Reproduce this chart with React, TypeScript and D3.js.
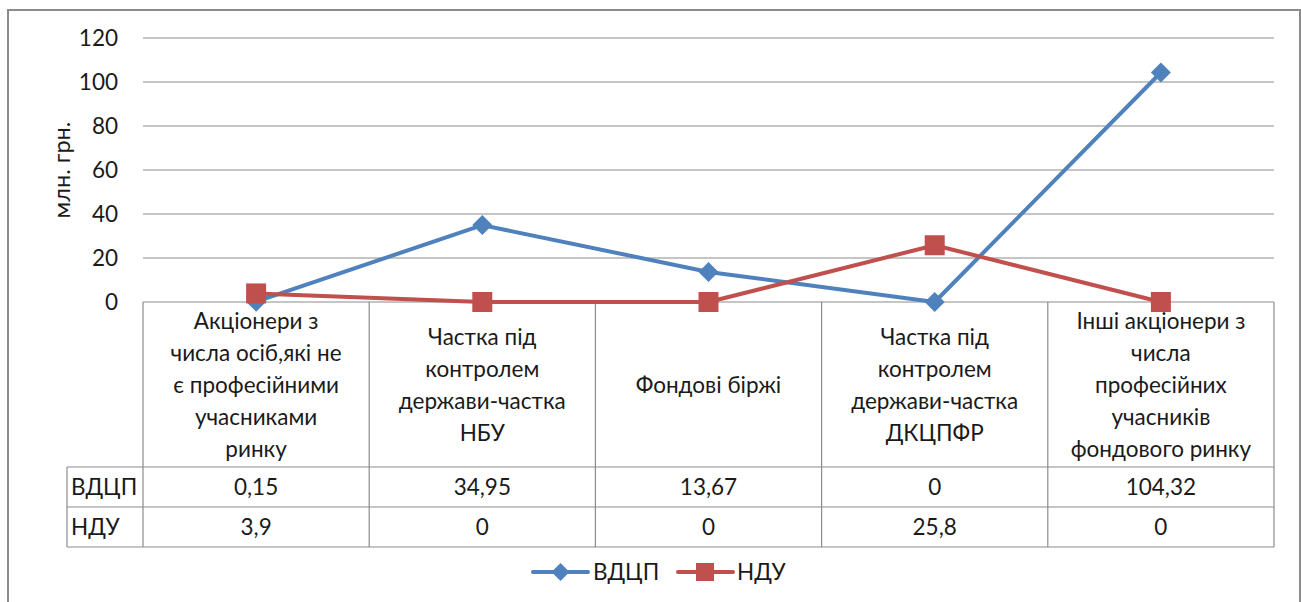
import React from "react";
import * as d3 from "d3";

const categoryLines: string[][] = [
  ["Акціонери з", "числа осіб,які не", "є професійними", "учасниками", "ринку"],
  ["Частка під", "контролем", "держави-частка", "НБУ"],
  ["Фондові біржі"],
  ["Частка під", "контролем", "держави-частка", "ДКЦПФР"],
  ["Інші акціонери з", "числа", "професійних", "учасників", "фондового ринку"],
];
const seriesNames = ["ВДЦП", "НДУ"];
const vdcp = [0.15, 34.95, 13.67, 0, 104.32];
const ndu = [3.9, 0, 0, 25.8, 0];
const vdcpLabels = ["0,15", "34,95", "13,67", "0", "104,32"];
const nduLabels = ["3,9", "0", "0", "25,8", "0"];
const yTicks = [0, 20, 40, 60, 80, 100, 120];
const yTitle = "млн. грн.";

const BLUE = "#4F81BD";
const RED = "#C0504D";
const GRID = "#8c8c8c";
const FONT = "Lato, 'Open Sans', sans-serif";
const FS = 22.5;
const TXT = "#1a1a1a";

export default function App() {
  const W = 1301, H = 602;
  const left = 143, right = 1274, top = 38, bottom = 302;
  const headerBottom = 467, row1Bottom = 507, row2Bottom = 547, labelLeft = 67;
  const y = d3.scaleLinear().domain([0, 120]).range([bottom, top]);
  const keys = categoryLines.map((_, i) => String(i));
  const x = d3.scaleBand().domain(keys).range([left, right]).paddingInner(0).paddingOuter(0);
  const cx = (i: number) => (x(String(i)) as number) + x.bandwidth() / 2;
  const line = d3.line<number>().x((_, i) => cx(i)).y((d) => y(d));
  const lineH = 32;
  const headerMid = (bottom + headerBottom) / 2;

  const diamond = (px: number, py: number, r: number) =>
    `M${px},${py - r}L${px + r},${py}L${px},${py + r}L${px - r},${py}Z`;

  return (
    <svg width={W} height={H} style={{ position: "absolute", left: 0, top: 0, background: "#fff" }} fontFamily={FONT}>
      <rect x={0} y={0} width={W} height={H} fill="#fff" />
      <rect x={8} y={10} width={1292} height={620} fill="none" stroke={GRID} strokeWidth={2} />
      {yTicks.filter((t) => t !== 0).map((t) => (
        <line key={t} x1={left} x2={right} y1={y(t)} y2={y(t)} stroke={GRID} strokeWidth={1.2} />
      ))}
      {yTicks.map((t) => (
        <text key={"t" + t} x={118} y={y(t)} dy="0.36em" textAnchor="end" fontSize={FS} fill={TXT}>{t}</text>
      ))}
      <text transform={`translate(62,170) rotate(-90)`} textAnchor="middle" dy="0.36em" fontSize={23.5} fill={TXT}>{yTitle}</text>
      <g stroke={GRID} strokeWidth={1.2} fill="none">
        <line x1={left} x2={right} y1={bottom} y2={bottom} />
        <line x1={labelLeft} x2={right} y1={headerBottom} y2={headerBottom} />
        <line x1={labelLeft} x2={right} y1={row1Bottom} y2={row1Bottom} />
        <line x1={labelLeft} x2={right} y1={row2Bottom} y2={row2Bottom} />
        <line x1={labelLeft} x2={labelLeft} y1={headerBottom} y2={row2Bottom} />
        {keys.map((k) => (
          <line key={k} x1={x(k)} x2={x(k)} y1={bottom} y2={row2Bottom} />
        ))}
        <line x1={right} x2={right} y1={bottom} y2={row2Bottom} />
      </g>
      {categoryLines.map((lines, i) => (
        <text key={"c" + i} textAnchor="middle" fontSize={FS} fill={TXT}>
          {lines.map((l, j) => (
            <tspan key={j} x={cx(i)} y={headerMid + (j - (lines.length - 1) / 2) * lineH} dy="0.36em">{l}</tspan>
          ))}
        </text>
      ))}
      {vdcpLabels.map((v, i) => (
        <text key={"v" + i} x={cx(i)} y={(headerBottom + row1Bottom) / 2} dy="0.36em" textAnchor="middle" fontSize={FS} fill={TXT}>{v}</text>
      ))}
      {nduLabels.map((v, i) => (
        <text key={"n" + i} x={cx(i)} y={(row1Bottom + row2Bottom) / 2} dy="0.36em" textAnchor="middle" fontSize={FS} fill={TXT}>{v}</text>
      ))}
      <text x={71} y={(headerBottom + row1Bottom) / 2} dy="0.36em" fontSize={FS} fill={TXT}>{seriesNames[0]}</text>
      <text x={71} y={(row1Bottom + row2Bottom) / 2} dy="0.36em" fontSize={FS} fill={TXT}>{seriesNames[1]}</text>
      <path d={line(vdcp) as string} fill="none" stroke={BLUE} strokeWidth={4} strokeLinejoin="round" />
      {vdcp.map((v, i) => (
        <path key={"dm" + i} d={diamond(cx(i), y(v), 10)} fill={BLUE} />
      ))}
      <path d={line(ndu) as string} fill="none" stroke={RED} strokeWidth={4} strokeLinejoin="round" />
      {ndu.map((v, i) => (
        <rect key={"sq" + i} x={cx(i) - 10} y={y(v) - 10} width={20} height={20} fill={RED} />
      ))}
      <line x1={533} x2={588} y1={572} y2={572} stroke={BLUE} strokeWidth={4} strokeLinecap="round" />
      <path d={diamond(560.5, 572, 9)} fill={BLUE} />
      <text x={593} y={572} dy="0.36em" fontSize={FS} fill={TXT}>{seriesNames[0]}</text>
      <line x1={678} x2={733} y1={572} y2={572} stroke={RED} strokeWidth={4} strokeLinecap="round" />
      <rect x={696} y={563} width={18} height={18} fill={RED} />
      <text x={737} y={572} dy="0.36em" fontSize={FS} fill={TXT}>{seriesNames[1]}</text>
    </svg>
  );
}
